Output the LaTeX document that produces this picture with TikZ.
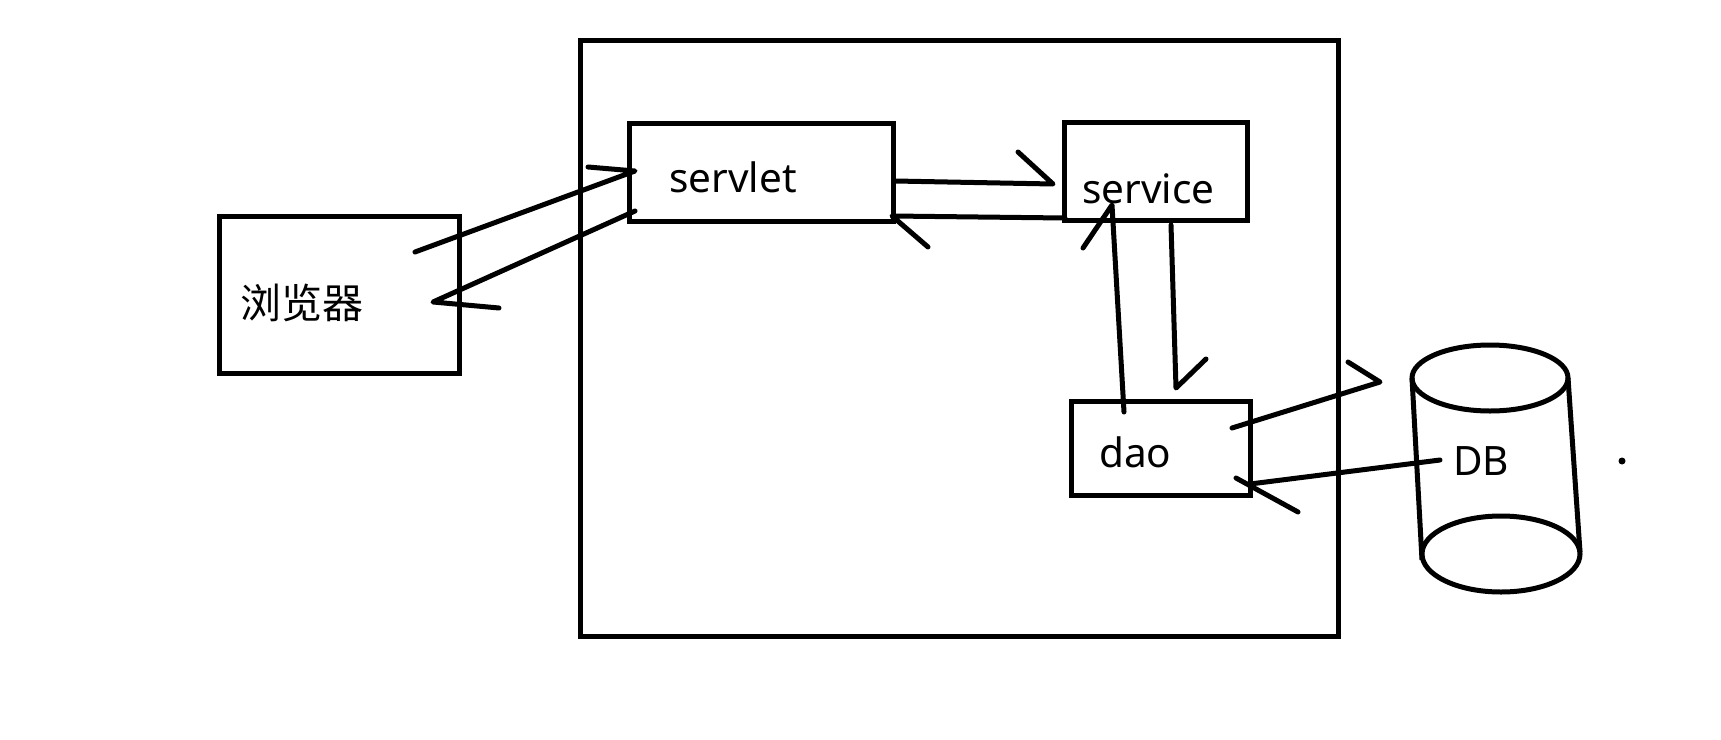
\documentclass[tikz,border=0pt]{standalone}
\usepackage{fontspec}
\setmainfont{Noto Sans}
\newfontfamily\cjk{Noto Sans CJK SC}
\begin{document}
\begin{tikzpicture}[x=1pt,y=-1pt,
  box/.style={draw,line width=5pt,inner sep=0pt,minimum width=#1},
  lbl/.style={anchor=base west,inner sep=0pt,font=\fontsize{40.5}{40}\selectfont},
  conn/.style={line width=5pt,line cap=round,line join=round},
  db/.style={line width=5pt}]
\useasboundingbox[fill=white] (0,0) rectangle (1721,739);
% boxes
\node[box=758pt,minimum height=596pt] (server) at (959,338) {};
\node[box=240pt,minimum height=157pt] (browser) at (339,294.5) {};
\node[box=264pt,minimum height=98pt] (servlet) at (761,172) {};
\node[box=183pt,minimum height=98pt] (service) at (1155.5,171) {};
\node[box=179pt,minimum height=94pt] (dao) at (1160.5,448) {};
% labels
\node[lbl,font=\cjk\fontsize{41}{41}\selectfont] (tbrowser) at (240,318) {浏览器};
\node[lbl] (tservlet) at (669,192) {servlet};
\node[lbl] (tservice) at (1082,203) {service};
\node[lbl] (tdao) at (1099,467) {dao};
% database cylinder
\draw[db] (1490,378) ellipse[x radius=78pt,y radius=33pt];
\draw[db] (1501,554) ellipse[x radius=79pt,y radius=38pt];
\draw[db] (1412,378) -- (1422,560);
\draw[db] (1568,378) -- (1580,552);
\node[lbl] (tdb) at (1453,475) {DB};
\fill (1622,461) circle[radius=3.5pt];
% connector end points
\coordinate (b1) at (415,252); \coordinate (s1) at (635,171); \coordinate (h1) at (588,167);
\coordinate (s2) at (635,211); \coordinate (b2) at (433,302); \coordinate (h2) at (499,308);
\coordinate (s3) at (895,181); \coordinate (v3) at (1053,184); \coordinate (h3) at (1018,152);
\coordinate (v4) at (1065,218); \coordinate (s4) at (892,216); \coordinate (h4) at (928,247);
\coordinate (d5) at (1124,412); \coordinate (v5) at (1112,205); \coordinate (h5) at (1083,248);
\coordinate (v6) at (1171,225); \coordinate (d6) at (1176,388); \coordinate (h6) at (1206,359);
\coordinate (d7) at (1232,428); \coordinate (x7) at (1380,382); \coordinate (h7) at (1348,362);
\coordinate (x8) at (1440,460); \coordinate (d8) at (1250,484);
\coordinate (h8a) at (1236,478); \coordinate (h8b) at (1298,512);
% connectors
\draw[conn] (b1) -- (s1) -- (h1);
\draw[conn] (s2) -- (b2) -- (h2);
\draw[conn] (s3) -- (v3) -- (h3);
\draw[conn] (v4) -- (s4) -- (h4);
\draw[conn] (d5) -- (v5) -- (h5);
\draw[conn] (v6) -- (d6) -- (h6);
\draw[conn] (d7) -- (x7) -- (h7);
\draw[conn] (x8) -- (d8);
\draw[conn] (h8a) -- (h8b);
\end{tikzpicture}
\end{document}
